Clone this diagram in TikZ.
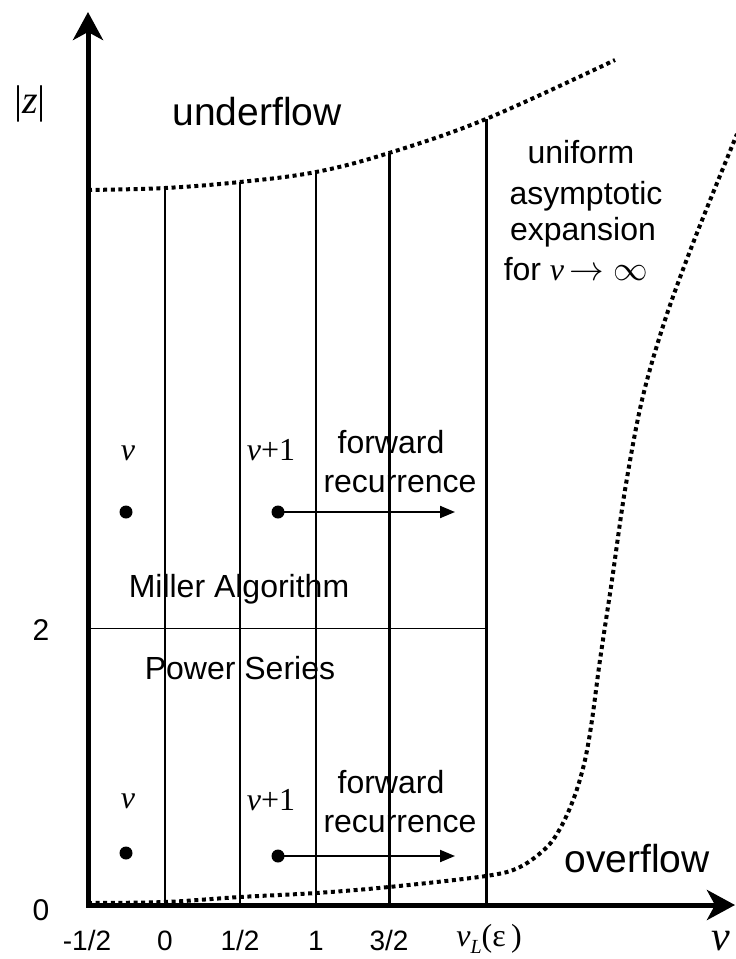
\documentclass[tikz,border=0pt]{standalone}
\usepackage{fontspec}
\setmainfont{Liberation Sans}
\newfontfamily\tms{Liberation Serif}
\usetikzlibrary{arrows.meta}
\begin{document}
\begin{tikzpicture}[x=0.5pt,y=-0.5pt,
 lbl/.style={anchor=base, inner sep=0pt, font=\fontsize{16}{19}\selectfont},
 bigl/.style={anchor=base, inner sep=0pt, font=\fontsize{19.5}{23}\selectfont},
 tick/.style={anchor=base, inner sep=0pt, font=\fontsize{14}{17}\selectfont},
 mth/.style={anchor=base, inner sep=0pt, font=\tms\fontsize{16}{19}\selectfont},
 axis/.style={line width=2.5pt, {Stealth[length=14pt,width=15pt,inset=4pt]}-{Stealth[length=14pt,width=15pt,inset=4pt]}},
 thinv/.style={line width=1pt},
 thickv/.style={line width=1.5pt},
 hline/.style={line width=0.5pt},
 dotc/.style={line width=2pt, dash pattern=on 2pt off 1.8pt},
 dotn/.style={circle, fill, inner sep=0pt, minimum size=6.5pt},
 fwd/.style={line width=1pt, -{Triangle[length=7.5pt,width=6pt]}}
]
\useasboundingbox (0,0) rectangle (735,959);
% coordinates
\coordinate (O) at (88,905);
\coordinate (ytop) at (88,12);
\coordinate (xend) at (735,905);
\coordinate (b1) at (165,905); \coordinate (t1) at (165,188);
\coordinate (b2) at (240,905); \coordinate (t2) at (240,182);
\coordinate (b3) at (316,905); \coordinate (t3) at (316,172);
\coordinate (b4) at (389,905); \coordinate (t4) at (389,153);
\coordinate (b5) at (486,905); \coordinate (t5) at (486,119);
\coordinate (h1) at (88,628); \coordinate (h2) at (486,628);
% grid lines
\draw[thinv] (b1) -- (t1);
\draw[thinv] (b2) -- (t2);
\draw[thinv] (b3) -- (t3);
\draw[thickv] (b4) -- (t4);
\draw[thickv] (b5) -- (t5);
\draw[hline] (h1) -- (h2);
% axes
\draw[axis] (ytop) -- (O) -- (xend);
% dotted curves
\draw[dotc] plot[smooth, tension=0.6] coordinates {(88,190) (165,188) (240,182) (316,172) (389,153) (486,119) (615,60)};
\draw[dotc] plot[smooth, tension=0.55] coordinates {(88,903) (165,902) (240,897) (316,893) (389,887) (486,876) (520,867) (547,847) (562,825) (575,795) (585,760) (592,720) (600,660) (612,580) (625,490) (642,400) (665,320) (695,238) (737,134)};
% labels
\node[anchor=center, inner sep=0pt, font=\tms\fontsize{20}{24}\selectfont] (zl) at (30,104) {|{\itshape z}|};
\node[bigl] (uf) at (257,125) {underflow};
\node[lbl] (u1) at (581,163) {uniform};
\node[lbl] (u2) at (586,204) {asymptotic};
\node[lbl] (u3) at (583,240) {expansion};
\node[lbl] (u4) at (576,280) {for~{\tms\itshape ν}\,$\rightarrow\infty$};
% upper
\node[mth] (nu1) at (128,460) {\itshape ν};
\node[mth] (nup1) at (271,460) {{\itshape ν}+1};
\node[lbl] (fw1) at (391,453) {forward};
\node[lbl] (rc1) at (400,492) {recurrence};
\node[dotn] (d1) at (126,512) {};
\node[dotn] (d2) at (278,512) {};
\coordinate (e2) at (455,512);
\draw[fwd] (d2.center) -- (e2);
\node[lbl] (ma) at (239,597) {Miller Algorithm};
\node[tick, font=\fontsize{15}{18}\selectfont] (two) at (41,640) {2};
\node[lbl] (ps) at (240,679) {Power Series};
% lower
\node[mth] (nu2) at (128,808) {\itshape ν};
\node[mth] (nup2) at (271,810) {{\itshape ν}+1};
\node[lbl] (fw2) at (391,793) {forward};
\node[lbl] (rc2) at (400,832) {recurrence};
\node[dotn] (d3) at (126,853) {};
\node[dotn] (d4) at (278,856) {};
\coordinate (e4) at (455,856);
\draw[fwd] (d4.center) -- (e4);
\node[bigl] (of) at (637,872) {overflow};
% ticks
\node[tick, font=\fontsize{15}{18}\selectfont] (zero) at (41,920) {0};
\node[tick] (x0) at (87,950) {-1/2};
\node[tick] (x1) at (165,950) {0};
\node[tick] (x2) at (240,950) {1/2};
\node[tick] (x3) at (316,950) {1};
\node[tick] (x4) at (389,950) {3/2};
\node[mth] (x5) at (489,946) {{\itshape ν\raisebox{-0.5ex}{\fontsize{10}{12}\selectfont L}}(ε\,)};
\node[anchor=base, inner sep=0pt, font=\tms\itshape\fontsize{21}{25}\selectfont] (nuax) at (721,950) {ν};
\end{tikzpicture}
\end{document}
